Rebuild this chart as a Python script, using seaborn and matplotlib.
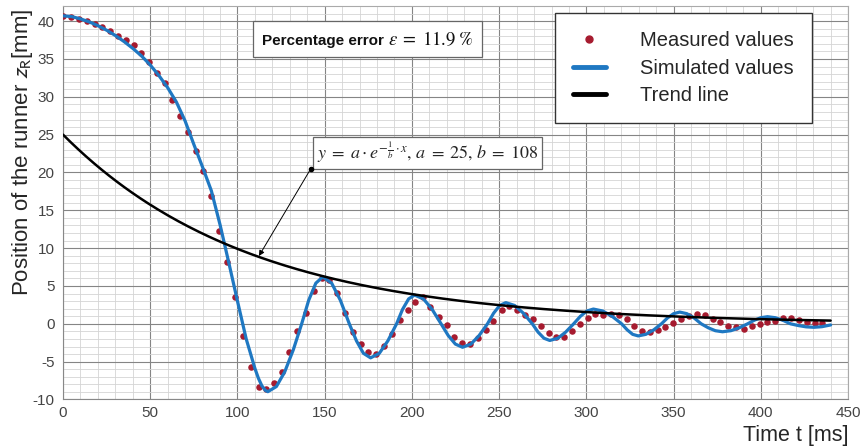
import numpy as np
import pandas as pd
import matplotlib
matplotlib.use("Agg")
import matplotlib.pyplot as plt
import seaborn as sns
from matplotlib.ticker import MultipleLocator
from matplotlib.lines import Line2D
from matplotlib.offsetbox import TextArea, HPacker, AnnotationBbox

# ---- data ----
meas_t = [0.0, 4.4, 9.1, 13.5, 18.1, 22.4, 27.0, 31.5, 35.9, 40.5, 44.8, 49.4, 54.0, 58.5,
          62.7, 67.1, 71.6, 76.0, 80.5, 85.1, 89.6, 94.2, 98.8, 103.3, 107.5, 112.1, 116.6,
          121.0, 125.4, 129.7, 134.4, 139.4, 144.0, 148.3, 152.7, 157.1, 161.6, 166.0, 170.8,
          174.9, 179.3, 183.8, 188.6, 193.2, 197.8, 201.9, 206.3, 210.6, 215.4, 219.9, 224.3,
          228.7, 233.2, 237.8, 242.4, 246.7, 251.5, 255.7, 260.0, 264.6, 269.2, 273.7, 278.3,
          282.7, 287.4, 291.7, 296.1, 300.7, 305.0, 309.6, 314.2, 318.5, 323.1, 327.5, 332.0,
          336.4, 340.9, 345.3, 349.9, 354.4, 358.8, 363.5, 368.0, 372.5, 376.8, 381.4, 385.8,
          390.3, 394.9, 399.3, 403.8, 408.2, 412.7, 417.3, 421.8, 426.2, 430.8, 435.1]
meas_z = [40.7, 40.57, 40.3, 40.04, 39.64, 39.25, 38.72, 38.1, 37.45, 36.79, 35.8, 34.54, 33.2, 31.8,
          29.6, 27.5, 25.3, 22.9, 20.2, 16.9, 12.2, 8.2, 3.5, -1.6, -5.7, -8.35, -8.65,
          -7.86, -6.37, -3.77, -0.95, 1.43, 4.33, 6.1, 5.8, 4.1, 1.43, -1.08, -2.7,
          -3.73, -4.03, -2.93, -1.4, 0.5, 1.85, 2.84, 3.6, 2.2, 0.86, -0.2, -1.7,
          -2.54, -2.7, -1.9, -0.8, 0.4, 1.8, 2.4, 1.8, 1.2, 0.67, -0.33, -1.28,
          -1.8, -1.7, -0.95, -0.07, 0.73, 1.3, 1.2, 1.3, 1.1, 0.6, -0.33, -0.95,
          -1.1, -0.8, -0.4, 0.1, 0.6, 1.0, 1.3, 1.17, 0.6, 0.25, -0.24, -0.46,
          -0.65, -0.3, -0.03, 0.28, 0.37, 0.8, 0.73, 0.46, 0.28, 0.15, 0.15]

sim_t = [0, 5, 10, 15, 20, 25, 30, 35, 40, 45, 50, 55, 60, 65, 70, 75, 80, 85, 90, 95, 100, 105,
         110, 112, 114, 116, 117.4, 122.3, 127.1, 132.0, 136.8, 140.8, 144.9, 148.9, 154.0, 159.0,
         164.1, 168.2, 172.2, 176.3, 181.3, 186.2, 191.2, 194.6, 198.1, 201.5, 206.6, 211.6, 216.7,
         220.8, 224.9, 229.0, 233.8, 238.5, 243.3, 246.8, 250.3, 253.8, 258.9, 263.9, 269.0, 272.3,
         275.7, 279.0, 283.6, 288.1, 292.7, 296.5, 300.2, 304.0, 309.4, 314.8, 320.2, 323.4, 326.5,
         329.7, 334.1, 338.6, 343.0, 346.5, 350.0, 353.5, 357.6, 361.7, 365.8, 369.9, 373.9, 378.0,
         382.8, 387.6, 392.4, 396.2, 400.0, 403.8, 408.2, 412.6, 417.0, 421.5, 425.9, 430.4, 435.0,
         440.0]
sim_z = [40.7, 40.6, 40.3, 39.9, 39.4, 38.8, 38.1, 37.3, 36.4, 35.4, 34.2, 32.8, 31.2, 29.3, 26.8,
         23.7, 20.7, 17.6, 13.1, 8.1, 3.0, -2.0, -5.9, -7.2, -8.2, -8.8, -8.97, -8.29, -6.34, -3.43,
         0.0, 3.10, 5.37, 6.2, 5.37, 3.10, 0.0, -2.25, -3.90, -4.5, -3.90, -2.25, 0.0, 1.9, 3.29,
         3.8, 3.29, 1.9, 0.0, -1.55, -2.68, -3.1, -2.68, -1.55, 0.0, 1.4, 2.42, 2.8, 2.42, 1.4, 0.0,
         -1.1, -1.91, -2.2, -1.91, -1.1, 0.0, 0.98, 1.69, 1.95, 1.69, 0.98, 0.0, -0.8, -1.39, -1.6,
         -1.39, -0.8, 0.0, 0.78, 1.34, 1.55, 1.34, 0.78, 0.0, -0.53, -0.91, -1.05, -0.91, -0.53, 0.0,
         0.47, 0.81, 0.94, 0.81, 0.47, 0.0, -0.23, -0.4, -0.46, -0.38, -0.15]

# trend line parameters given in the chart: y = a * exp(-x / b)
trend_a = 25
trend_b = 108
trend_end = 440

x_ticks = [0, 50, 100, 150, 200, 250, 300, 350, 400, 450]
y_ticks = [-10, -5, 0, 5, 10, 15, 20, 25, 30, 35, 40]

trend_t = np.linspace(0, trend_end, 300)
trend_z = trend_a * np.exp(-trend_t / trend_b)

meas_df = pd.DataFrame({"t": meas_t, "z": meas_z})
sim_df = pd.DataFrame({"t": sim_t, "z": sim_z})
trend_df = pd.DataFrame({"t": trend_t, "z": trend_z})

# ---- style ----
sns.set_theme(style="white")
plt.rcParams["font.family"] = ["Liberation Sans", "DejaVu Sans"]
plt.rcParams["mathtext.fontset"] = "stix"
plt.rcParams["axes.unicode_minus"] = False

RED = "#a61b2f"
BLUE = "#1f78c2"

fig, ax = plt.subplots(figsize=(8.61, 4.48), dpi=100)
fig.subplots_adjust(left=0.0732, right=0.985, top=0.9866, bottom=0.1083)

sns.scatterplot(data=meas_df, x="t", y="z", ax=ax, color=RED, s=22, linewidth=0,
                zorder=3, legend=False)
sns.lineplot(data=sim_df, x="t", y="z", ax=ax, color=BLUE, lw=2.3, estimator=None,
             sort=False, zorder=4, legend=False)
sns.lineplot(data=trend_df, x="t", y="z", ax=ax, color="black", lw=1.8, estimator=None,
             zorder=5, legend=False)

ax.set_xlim(0, 450)
ax.set_ylim(-10, 42)
ax.set_xticks(x_ticks)
ax.set_yticks(y_ticks)
ax.xaxis.set_minor_locator(MultipleLocator(10))
ax.yaxis.set_minor_locator(MultipleLocator(1))
ax.grid(which="major", color="#858585", lw=0.8, zorder=0)
ax.grid(which="minor", color="#d4d4d4", lw=0.6, zorder=0)
ax.set_axisbelow(True)
ax.tick_params(which="both", length=0)
ax.tick_params(axis="y", pad=6, labelsize=11, labelcolor="#444444")
ax.tick_params(axis="x", pad=5, labelsize=11, labelcolor="#444444")
for sp in ax.spines.values():
    sp.set_color("#aaaaaa")
    sp.set_linewidth(0.8)
ax.spines["left"].set_color("#888888")
ax.spines["bottom"].set_color("#888888")

ax.set_xlabel("Time t [ms]", loc="right", fontsize=15.5, labelpad=3)
ax.set_ylabel(r"Position of the runner $z_{\mathrm{R}}$[mm]", fontsize=16,
              math_fontfamily="stixsans")
ax.yaxis.set_label_coords(-0.036, 0.629)

handles = [
    Line2D([], [], marker="o", color=RED, lw=0, markersize=5),
    Line2D([], [], color=BLUE, lw=3.5),
    Line2D([], [], color="black", lw=3.5),
]
leg = ax.legend(handles, ["Measured values", "Simulated values", "Trend line"],
                loc="upper right", bbox_to_anchor=(0.954, 0.982), borderaxespad=0,
                fontsize=14.5, frameon=True, fancybox=False, framealpha=1,
                edgecolor="#333333", handlelength=1.65, handletextpad=1.7,
                borderpad=0.9, labelspacing=0.42)
leg.get_frame().set_linewidth(1.0)

# percentage error box (sans text + serif math inside one frame)
ta1 = TextArea("Percentage error", textprops=dict(size=11, weight="bold", color="#111111"))
ta2 = TextArea(r"$\varepsilon\;=\;11.9\;\%$", textprops=dict(size=13.5, color="#111111"))
pack = HPacker(children=[ta1, ta2], align="baseline", pad=0, sep=3)
ab = AnnotationBbox(pack, (174.6, 37.6), xycoords="data", box_alignment=(0.5, 0.5),
                    pad=0.6, fontsize=10, frameon=True,
                    bboxprops=dict(fc="white", ec="#666666", lw=0.9), zorder=6)
ax.add_artist(ab)

ax.text(209.0, 22.6,
        r"$y\;=\;a\cdot e^{-\frac{1}{b}\cdot x}$, $a\;=\;25$, $b\;=\;108$",
        ha="center", va="center", fontsize=13, zorder=6,
        family=["STIXGeneral", "DejaVu Serif"],
        bbox=dict(boxstyle="square,pad=0.2", fc="white", ec="#666666", lw=0.9))

ax.annotate("", xy=(112.3, 8.96), xytext=(141.9, 20.45),
            arrowprops=dict(arrowstyle="-|>", color="black", lw=0.7, mutation_scale=8,
                            shrinkA=0, shrinkB=0), zorder=6)
ax.plot([141.9], [20.45], "o", color="black", ms=3, zorder=7)

fig.savefig("out.png", dpi=100)
